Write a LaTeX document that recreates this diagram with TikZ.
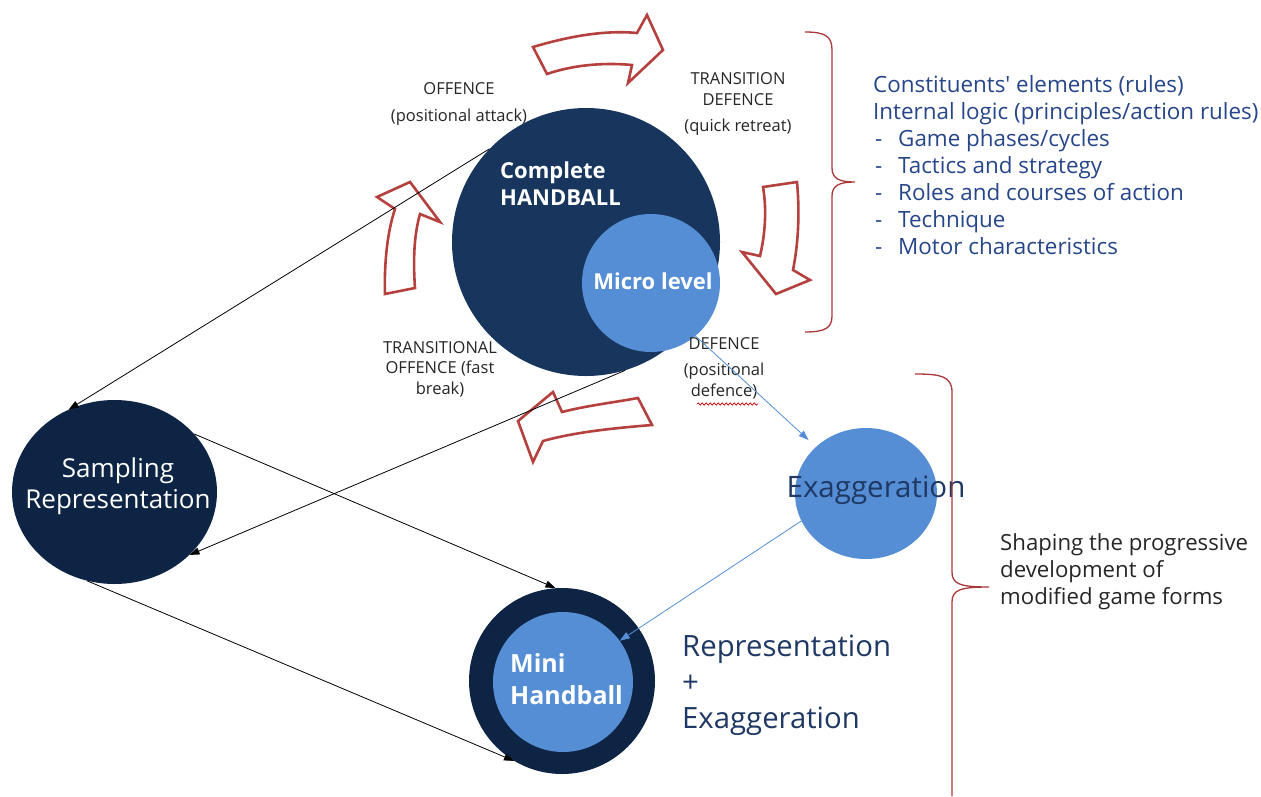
\documentclass[tikz,border=0pt]{standalone}
\usepackage{fontspec}
\setmainfont{Open Sans}
\usetikzlibrary{arrows.meta,shapes.geometric,decorations.pathmorphing}
\definecolor{navyA}{HTML}{18365D}
\definecolor{navyB}{HTML}{0E2444}
\definecolor{lblue}{HTML}{558ED5}
\definecolor{listblue}{HTML}{27468A}
\definecolor{repblue}{HTML}{1F3864}
\definecolor{arrred}{HTML}{B5413F}
\definecolor{bracered}{HTML}{A8383A}
\tikzset{
  blob/.style={circle, inner sep=0pt, draw=none},
  oval/.style={ellipse, inner sep=0pt, draw=none},
  phase/.style={font=\fontsize{16.5}{20.5}\selectfont, align=center, text=black!85, inner sep=0pt},
  conn/.style={-{Triangle[length=10pt,width=7pt]}, line width=0.8pt, draw=black},
  bconn/.style={-{Triangle[length=10pt,width=7pt]}, line width=0.8pt, draw=lblue},
  blockarrow/.style={draw=arrred, line width=2.6pt, fill=white, line join=miter},
  bracepath/.style={draw=bracered, line width=1.3pt},
}
\begin{document}
\begin{tikzpicture}[x=1pt,y=-1pt]
\useasboundingbox[fill=white] (0,0) rectangle (1261,796);

% circles
\node[blob, fill=navyA, minimum size=268pt] (CH) at (586,242) {};
\node[blob, fill=lblue, minimum size=138pt] (ML) at (651,283) {};
\node[oval, fill=navyB, minimum width=205pt, minimum height=184pt] (SR) at (114.5,492) {};
\node[oval, fill=lblue, minimum width=142pt, minimum height=131pt] (EX) at (866,493.5) {};
\node[blob, fill=navyB, minimum size=186pt] (MH) at (562,681) {};
\node[blob, fill=lblue, minimum size=140pt] (MI) at (563,682) {};

% texts in circles
\node[anchor=west, align=left, text=white, inner sep=0pt,
      font=\fontsize{22}{27}\selectfont\bfseries] (CHt) at (500,184) {Complete\\HANDBALL};
\node[text=white, inner sep=0pt, font=\fontsize{22}{27}\selectfont\bfseries] (MLt) at (653,281) {Micro level};
\node[align=center, text=white, inner sep=0pt, font=\fontsize{26}{31}\selectfont] (SRt) at (118,486) {Sampling\\Representation};
\node[text=repblue, inner sep=0pt, font=\fontsize{29.5}{34}\selectfont] (EXt) at (876,490) {Exaggeration};
\node[anchor=west, align=left, text=white, inner sep=0pt,
      font=\fontsize{25}{32}\selectfont\bfseries] (MHt) at (510,679) {Mini\\Handball};
\node[anchor=west, align=left, text=repblue, inner sep=0pt,
      font=\fontsize{29.3}{36}\selectfont] (RE) at (682,685) {Representation\\+\\Exaggeration};

% phase labels
\node[phase] (P1) at (459,104) {OFFENCE\\[7pt](positional attack)};
\node[phase] (P2) at (738,104) {TRANSITION\\DEFENCE\\[6pt](quick retreat)};
\node[phase] (P3) at (440,369) {TRANSITIONAL\\OFFENCE (fast\\break)};
\node[phase] (P4) at (724,368) {DEFENCE\\[6pt](positional\\defence)};
\draw[draw=red!80!black, line width=0.7pt, decorate,
      decoration={snake, amplitude=1.2pt, segment length=4pt}] (697,404) -- (758,404);

% right texts
\node[anchor=west, align=left, text=listblue, inner sep=0pt,
      font=\fontsize{22.4}{27}\selectfont] (LIST) at (873,165)
  {Constituents\textquotesingle{} elements (rules)\\
   Internal logic (principles/action rules)\\
   \makebox[25pt][l]{\hspace{2pt}-}Game phases/cycles\\
   \makebox[25pt][l]{\hspace{2pt}-}Tactics and strategy\\
   \makebox[25pt][l]{\hspace{2pt}-}Roles and courses of action\\
   \makebox[25pt][l]{\hspace{2pt}-}Technique\\
   \makebox[25pt][l]{\hspace{2pt}-}Motor characteristics};
\node[anchor=west, align=left, text=black!85, inner sep=0pt,
      font=\fontsize{22.2}{27}\selectfont] (SH) at (1000,572)
  {Shaping the progressive\\development of\\modified game forms};

% braces
\draw[bracepath] (805,32) .. controls (825,32) and (832,36) .. (832,50) -- (832,168)
  .. controls (832,179) and (840,182) .. (855,182)
  .. controls (840,182) and (832,185) .. (832,196) -- (832,316)
  .. controls (832,328) and (825,332) .. (805,332);
\draw[bracepath] (915,374) .. controls (940,374) and (952,376) .. (952,392) -- (952,572)
  .. controls (952,584) and (960,587) .. (989,587)
  .. controls (960,587) and (952,590) .. (952,602) -- (952,796);

% block arrows
\draw[blockarrow] (533,47) .. controls (570,36) and (605,30) .. (637,33) -- (647,15) -- (663,50)
  -- (628,83) -- (632,65) .. controls (600,62) and (570,66) .. (547,74) -- cycle;
\draw[blockarrow] (763,187) -- (797,182) .. controls (800,215) and (798,245) .. (793,270)
  -- (810,280) -- (776,294) -- (742,252) -- (760,256) .. controls (765,235) and (767,210) .. cycle;
\draw[blockarrow] (638,398) .. controls (610,403) and (585,406) .. (562,412) -- (553,392)
  -- (518,421) -- (533,462) -- (543,441) .. controls (575,432) and (615,428) .. (652,425) -- cycle;
\draw[blockarrow] (385,294) .. controls (384,260) and (388,230) .. (395,209) -- (377,197)
  -- (410,182) -- (440,222) -- (420,214) .. controls (414,235) and (413,260) .. (415,288) -- cycle;

% connectors
\draw[conn] (CH.136.5) -- (SR.119.5);
\draw[conn] (SR.36.7) -- (MH.94);
\draw[conn] (CH.287) -- (SR.320);
\draw[conn] (SR.253) -- (MH.239);
\draw[bconn, shorten >=10pt] (ML.310) -- (EX.137);
\draw[bconn] (EX.203) -- (MI.36);
\end{tikzpicture}
\end{document}
